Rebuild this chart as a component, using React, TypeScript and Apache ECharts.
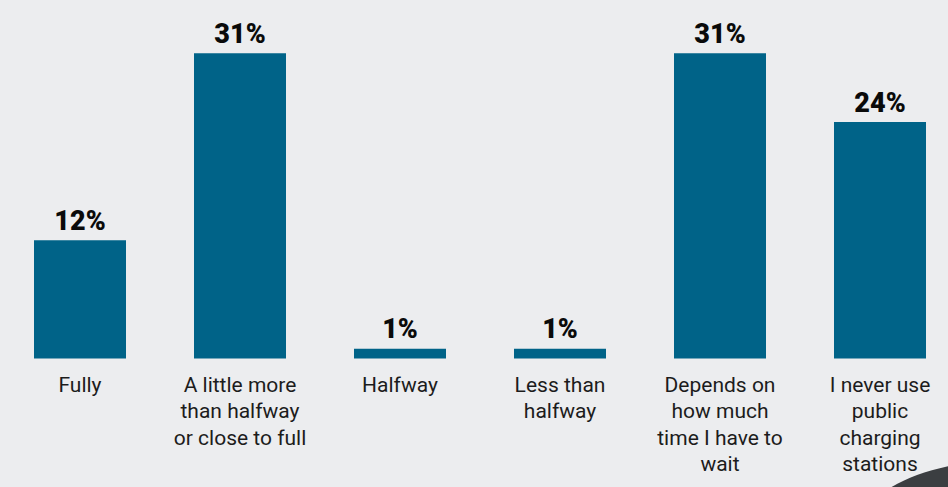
import React, { useEffect, useRef } from "react";
import * as echarts from "echarts";

const categories: string[] = [
  "Fully",
  "A little more\nthan halfway\nor close to full",
  "Halfway",
  "Less than\nhalfway",
  "Depends on\nhow much\ntime I have to\nwait",
  "I never use\npublic\ncharging\nstations",
];
const values: number[] = [12, 31, 1, 1, 31, 24];

export default function App() {
  const ref = useRef<HTMLDivElement>(null);
  useEffect(() => {
    document.body.style.margin = "0";
    if (!ref.current) return;
    const chart = echarts.init(ref.current, undefined, { renderer: "svg" });
    chart.setOption({
      animation: false,
      backgroundColor: "#ECEDEF",
      grid: { left: 0, right: 0, top: 13.75, bottom: 128.5, containLabel: false },
      xAxis: {
        type: "category",
        data: categories,
        axisLine: { show: false },
        axisTick: { show: false },
        axisLabel: {
          interval: 0,
          margin: 13,
          color: "#1c1c1c",
          fontFamily: "Roboto",
          fontSize: 21,
          lineHeight: 26.5,
          align: "center",
        },
      },
      yAxis: {
        type: "value",
        min: 0,
        max: 35,
        show: false,
        splitLine: { show: false },
      },
      series: [
        {
          type: "bar",
          data: values,
          barWidth: 92,
          itemStyle: { color: "#006388" },
          label: {
            show: true,
            position: "top",
            distance: 6,
            formatter: "{c}%",
            color: "#0a0a0a",
            fontFamily: "Roboto",
            fontWeight: 900,
            fontSize: 27,
          },
        },
      ],
      graphic: [
        {
          type: "ellipse",
          shape: { cx: 1010, cy: 530, rx: 150, ry: 70 },
          style: { fill: "#3b3e41" },
          silent: true,
        },
      ],
    });
    return () => chart.dispose();
  }, []);
  return (
    <div style={{ width: 948, height: 487, overflow: "hidden", background: "#ECEDEF" }}>
      <div ref={ref} style={{ width: 960, height: 487 }} />
    </div>
  );
}
